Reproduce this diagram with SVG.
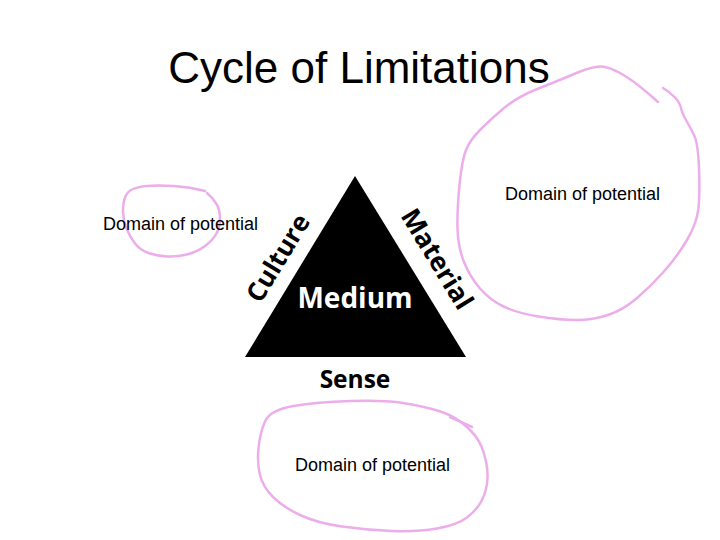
<svg xmlns="http://www.w3.org/2000/svg" width="720" height="540" viewBox="0 0 720 540">
<style>
.title{font-family:"Liberation Sans",Arial,sans-serif;font-size:44px;fill:#000}
.dom{font-family:"Liberation Sans",Arial,sans-serif;font-size:18px;fill:#000}
.bold{font-family:"Open Sans","Noto Sans",sans-serif;font-weight:bold;text-anchor:middle}
.ink{fill:none;stroke:#ecaeea;stroke-width:2.5;stroke-linecap:round;stroke-linejoin:round}
</style>
<rect width="720" height="540" fill="#fff"/>
<text class="title" x="359" y="83" text-anchor="middle">Cycle of Limitations</text>
<g id="triangle">
<polygon points="355,176 245,357 466,357" fill="#000"/>
<text class="bold" x="355" y="308" font-size="28" fill="#fff">Medium</text>
</g>
<g id="culture"><text class="bold" transform="translate(278,258) rotate(-58.7)" x="0" y="9" font-size="26" fill="#000">Culture</text></g>
<g id="material"><text class="bold" transform="translate(437,259) rotate(58.5)" x="0" y="9" font-size="26.5" fill="#000">Material</text></g>
<g id="sense"><text class="bold" x="355" y="388" font-size="24.5" fill="#000">Sense</text></g>
<g id="domain-right">
<path class="ink" d="M 658,102 Q 637,83 623.5,75 Q 610,67 601.5,66.5 Q 593,66 576.5,73 Q 560,80 538.5,88.5 Q 517,97 503.5,108.5 Q 490,120 480,130 Q 470,140 466,150 Q 462,160 459.5,185 Q 457,210 457.5,228.5 Q 458,247 464,262 Q 470,277 480,288.5 Q 490,300 503.5,306.5 Q 517,313 538.5,316.5 Q 560,320 576.5,320 Q 593,320 608,315 Q 623,310 636.5,298.5 Q 650,287 663.5,272 Q 677,257 687,240 Q 697,223 698.5,208 Q 700,193 699,168 Q 698,143 694,135 Q 690,127 686,120 Q 682,113 681,108 Q 680,103 675,97.5 Q 670,92 663,88"/>
<text class="dom" x="505" y="200">Domain of potential</text>
</g>
<g id="domain-left">
<path class="ink" d="M 205,191 Q 190,187 173.5,186 Q 157,185 147,186 Q 137,187 132,189.5 Q 127,192 125,197.5 Q 123,203 123,211.5 Q 123,220 126.5,228.5 Q 130,237 135,243.5 Q 140,250 148.5,253 Q 157,256 167,256.5 Q 177,257 187,254.5 Q 197,252 205,246 Q 213,240 216.5,233.5 Q 220,227 220,218.5 Q 220,210 216.5,204 Q 213,198 207,193"/>
<text class="dom" x="103" y="230">Domain of potential</text>
</g>
<g id="domain-bottom">
<path class="ink" d="M 293.5,406 Q 317,402 350,401 Q 383,400 400,402.5 Q 417,405 432,409 Q 447,413 455,418 Q 463,423 471.5,431.5 Q 480,440 484,453.5 Q 488,467 487.5,478.5 Q 487,490 482,500 Q 477,510 467,517.5 Q 457,525 437,528.5 Q 417,532 392,531 Q 367,530 342,526.5 Q 317,523 300,515 Q 283,507 273,497 Q 263,487 260,475 Q 257,463 258.5,448 Q 260,433 265,421.5 Q 270,410 293.5,406"/>
<path class="ink" d="M 450,417 L 472,427"/>
<text class="dom" x="295" y="471">Domain of potential</text>
</g>
</svg>
